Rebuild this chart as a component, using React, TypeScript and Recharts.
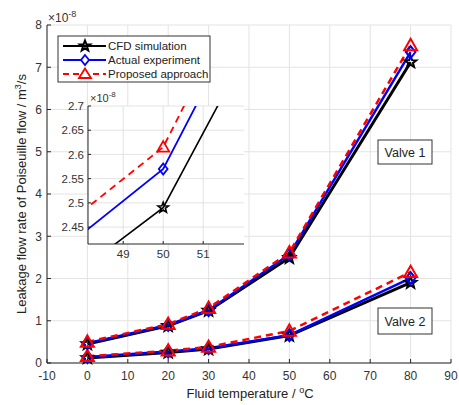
import React from "react";
import {
  LineChart,
  Line,
  XAxis,
  YAxis,
  CartesianGrid,
} from "recharts";

const temperatures = [0, 20, 30, 50, 80];
const valve1Cfd = [0.45, 0.88, 1.24, 2.49, 7.12];
const valve1Exp = [0.47, 0.9, 1.25, 2.57, 7.36];
const valve1Prop = [0.5, 0.92, 1.3, 2.615, 7.52];
const valve2Cfd = [0.12, 0.25, 0.33, 0.65, 1.9];
const valve2Exp = [0.14, 0.27, 0.35, 0.66, 2.01];
const valve2Prop = [0.16, 0.29, 0.38, 0.76, 2.15];

const xTicks = [-10, 0, 10, 20, 30, 40, 50, 60, 70, 80, 90];
const yTicks = [0, 1, 2, 3, 4, 5, 6, 7, 8];
const insetXTicks = [49, 50, 51];
const insetYTicks = [2.45, 2.5, 2.55, 2.6, 2.65, 2.7];

const seriesNames = ["CFD simulation", "Actual experiment", "Proposed approach"];

const data = temperatures.map((t, i) => ({
  t,
  v1cfd: valve1Cfd[i],
  v1exp: valve1Exp[i],
  v1prop: valve1Prop[i],
  v2cfd: valve2Cfd[i],
  v2exp: valve2Exp[i],
  v2prop: valve2Prop[i],
}));

const FONT = "'Liberation Sans', Arial, Helvetica, sans-serif";
const AXIS = "#262626";
const GRID = "#e3e3e3";
const BLACK = "#000000";
const BLUE = "#0000ff";
const RED = "#ff0000";

function starPoints(cx: number, cy: number, R: number, r: number) {
  const pts: string[] = [];
  for (let k = 0; k < 10; k++) {
    const rad = k % 2 === 0 ? R : r;
    const a = -Math.PI / 2 + (k * Math.PI) / 5;
    pts.push(`${cx + rad * Math.cos(a)},${cy + rad * Math.sin(a)}`);
  }
  return pts.join(" ");
}

const makeStar = (size: number, sw: number) => (props: any) => {
  const { cx, cy, index } = props;
  if (cx == null || cy == null) return <g key={`s${index}`} />;
  return (
    <polygon
      key={`s${index}-${cx}`}
      points={starPoints(cx, cy, size, size * 0.42)}
      fill="none"
      stroke={BLACK}
      strokeWidth={sw}
    />
  );
};

const makeDiamond = (size: number, sw: number) => (props: any) => {
  const { cx, cy, index } = props;
  if (cx == null || cy == null) return <g key={`d${index}`} />;
  return (
    <polygon
      key={`d${index}-${cx}`}
      points={`${cx},${cy - size} ${cx + size * 0.8},${cy} ${cx},${cy + size} ${cx - size * 0.8},${cy}`}
      fill="none"
      stroke={BLUE}
      strokeWidth={sw}
    />
  );
};

const makeTriangle = (size: number, sw: number) => (props: any) => {
  const { cx, cy, index } = props;
  if (cx == null || cy == null) return <g key={`t${index}`} />;
  return (
    <polygon
      key={`t${index}-${cx}`}
      points={`${cx},${cy - size} ${cx + size},${cy + size * 0.75} ${cx - size},${cy + size * 0.75}`}
      fill="none"
      stroke={RED}
      strokeWidth={sw}
    />
  );
};

const tickStyle = { fontSize: 12, fill: "#333333", fontFamily: FONT };

function Overlay() {
  const legendRows = [
    { y: 46, color: BLACK, dash: undefined, marker: "star" },
    { y: 60, color: BLUE, dash: undefined, marker: "diamond" },
    { y: 74, color: RED, dash: "6 4", marker: "tri" },
  ];
  return (
    <svg
      width={459}
      height={405}
      style={{ position: "absolute", left: 0, top: 0, pointerEvents: "none" }}
      fontFamily={FONT}
    >
      {/* exponent labels */}
      <text x={48} y={22} fontSize={12} fill="#333">
        ×10<tspan dy={-5} fontSize={9}>-8</tspan>
      </text>
      <text x={90} y={102} fontSize={11} fill="#333">
        ×10<tspan dy={-5} fontSize={8}>-8</tspan>
      </text>
      {/* legend */}
      <rect x={58} y={36} width={152} height={46} fill="white" stroke="#333" strokeWidth={1} />
      {legendRows.map((r, i) => (
        <g key={i}>
          <line x1={63} x2={106} y1={r.y} y2={r.y} stroke={r.color} strokeWidth={2.2} strokeDasharray={r.dash} />
          {r.marker === "star" && (
            <polygon points={starPoints(85, r.y, 5.5, 2.3)} fill="none" stroke={BLACK} strokeWidth={2} />
          )}
          {r.marker === "diamond" && (
            <polygon points={`85,${r.y - 5} 89,${r.y} 85,${r.y + 5} 81,${r.y}`} fill="white" stroke={BLUE} strokeWidth={1.8} />
          )}
          {r.marker === "tri" && (
            <polygon points={`85,${r.y - 5.5} 91,${r.y + 4} 79,${r.y + 4}`} fill="white" stroke={RED} strokeWidth={1.8} />
          )}
          <text x={108} y={r.y + 4} fontSize={11.5} fill="#222">
            {seriesNames[i]}
          </text>
        </g>
      ))}
      {/* valve labels */}
      <rect x={378} y={140} width={54} height={24} fill="white" stroke="#333" strokeWidth={1} />
      <text x={405} y={156.5} fontSize={12.5} fill="#222" textAnchor="middle">Valve 1</text>
      <rect x={378} y={308} width={54} height={26} fill="white" stroke="#333" strokeWidth={1} />
      <text x={405} y={325.5} fontSize={12.5} fill="#222" textAnchor="middle">Valve 2</text>
      {/* axis labels */}
      <text
        x={0}
        y={0}
        transform="translate(26,194) rotate(-90)"
        textAnchor="middle"
        fontSize={13}
        fill="#222"
      >
        Leakage flow rate of Poiseuille flow / m<tspan dy={-5} fontSize={9}>3</tspan>
        <tspan dy={5}>/s</tspan>
      </text>
      <text x={250} y={398} textAnchor="middle" fontSize={13} fill="#222">
        Fluid temperature / <tspan dy={-5} fontSize={9}>o</tspan>
        <tspan dy={5}>C</tspan>
      </text>
    </svg>
  );
}

function MainChart() {
  return (
    <LineChart
      width={459}
      height={405}
      data={data}
      margin={{ top: 25, right: 8, bottom: 12, left: 17 }}
    >
      <CartesianGrid stroke={GRID} strokeWidth={1} horizontalValues={yTicks} verticalValues={xTicks} />
      <XAxis
        dataKey="t"
        type="number"
        domain={[-10, 90]}
        ticks={xTicks}
        height={30}
        tick={tickStyle}
        tickSize={-4}
        tickMargin={12}
        stroke={AXIS}
        interval={0}
      />
      <XAxis
        xAxisId="top"
        orientation="top"
        dataKey="t"
        type="number"
        domain={[-10, 90]}
        ticks={xTicks}
        height={0}
        tick={false}
        tickSize={-4}
        stroke={AXIS}
      />
      <YAxis
        type="number"
        domain={[0, 8]}
        ticks={yTicks}
        width={30}
        tick={tickStyle}
        tickSize={-4}
        tickMargin={9}
        stroke={AXIS}
        interval={0}
      />
      <YAxis
        yAxisId="right"
        orientation="right"
        type="number"
        domain={[0, 8]}
        ticks={yTicks}
        width={0}
        tick={false}
        tickSize={-4}
        stroke={AXIS}
      />
      <Line dataKey="v2cfd" stroke={BLACK} strokeWidth={3} dot={makeStar(6, 2)} isAnimationActive={false} />
      <Line dataKey="v2exp" stroke={BLUE} strokeWidth={2.5} dot={makeDiamond(6, 2)} isAnimationActive={false} />
      <Line dataKey="v2prop" stroke={RED} strokeWidth={2.5} strokeDasharray="7 5" dot={makeTriangle(6.5, 2)} isAnimationActive={false} />
      <Line dataKey="v1cfd" stroke={BLACK} strokeWidth={3} dot={makeStar(6, 2)} isAnimationActive={false} />
      <Line dataKey="v1exp" stroke={BLUE} strokeWidth={2.5} dot={makeDiamond(6, 2)} isAnimationActive={false} />
      <Line dataKey="v1prop" stroke={RED} strokeWidth={2.5} strokeDasharray="7 5" dot={makeTriangle(6.5, 2)} isAnimationActive={false} />
    </LineChart>
  );
}

function InsetChart() {
  return (
    <div style={{ position: "absolute", left: 50, top: 90 }}>
      <LineChart
        width={200}
        height={175}
        data={data}
        margin={{ top: 16, right: 6, bottom: 0, left: 0 }}
      >
        <CartesianGrid fill="white" stroke={GRID} horizontalValues={insetYTicks} verticalValues={insetXTicks} />
        <XAxis
          dataKey="t"
          type="number"
          domain={[48.12, 52.02]}
          allowDataOverflow
          ticks={insetXTicks}
          height={21}
          tick={{ ...tickStyle, fontSize: 11.5 }}
          tickSize={-3}
          tickMargin={9}
          stroke={AXIS}
          interval={0}
        />
        <XAxis
          xAxisId="top"
          orientation="top"
          dataKey="t"
          type="number"
          domain={[48.12, 52.02]}
          allowDataOverflow
          ticks={insetXTicks}
          height={0}
          tick={false}
          tickSize={-3}
          stroke={AXIS}
        />
        <YAxis
          type="number"
          domain={[2.415, 2.7]}
          allowDataOverflow
          ticks={insetYTicks}
          width={38}
          tick={{ ...tickStyle, fontSize: 11.5 }}
          tickSize={-3}
          tickMargin={7}
          stroke={AXIS}
          interval={0}
        />
        <YAxis
          yAxisId="right"
          orientation="right"
          type="number"
          domain={[2.415, 2.7]}
          allowDataOverflow
          ticks={insetYTicks}
          width={0}
          tick={false}
          tickSize={-3}
          stroke={AXIS}
        />
        <Line dataKey="v1cfd" stroke={BLACK} strokeWidth={1.6} dot={makeStar(5.5, 1.6)} isAnimationActive={false} />
        <Line dataKey="v1exp" stroke={BLUE} strokeWidth={1.8} dot={makeDiamond(5.5, 1.8)} isAnimationActive={false} />
        <Line dataKey="v1prop" stroke={RED} strokeWidth={1.8} strokeDasharray="7 5" dot={makeTriangle(6, 1.8)} isAnimationActive={false} />
      </LineChart>
    </div>
  );
}

export default function App() {
  return (
    <div style={{ position: "absolute", left: 0, top: 0, width: 459, height: 405, background: "white" }}>
      <MainChart />
      <InsetChart />
      <Overlay />
    </div>
  );
}
